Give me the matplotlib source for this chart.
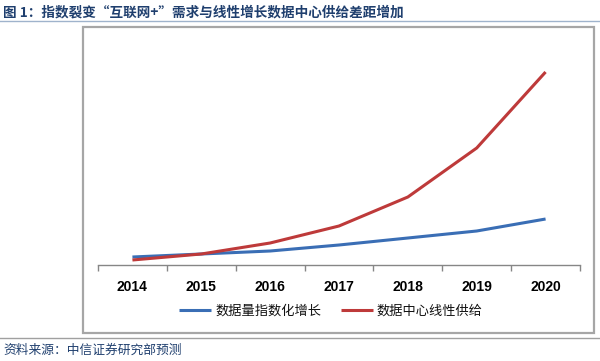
import matplotlib
matplotlib.use("Agg")
import matplotlib.pyplot as plt
from matplotlib.patches import Rectangle
from matplotlib.lines import Line2D
import numpy as np

plt.rcParams['font.family'] = ['Noto Sans CJK SC', 'DejaVu Sans']

years = ['2014', '2015', '2016', '2017', '2018', '2019', '2020']
data_growth = [8, 11, 14, 20, 27, 34, 46]        # 数据量指数化增长 (blue)
dc_supply = [5, 11, 22, 39, 68, 117, 193]        # 数据中心线性供给 (red)
series_names = ['数据量指数化增长', '数据中心线性供给']
title = '图 1：指数裂变“互联网+”需求与线性增长数据中心供给差距增加'
source = '资料来源：中信证券研究部预测'

W, H = 600, 361
fig = plt.figure(figsize=(W / 100, H / 100), dpi=100)

def fx(px):
    return px / W

def fy(py):
    return 1 - py / H

# title
fig.text(fx(3), fy(12), title, fontsize=9.8, fontweight='bold', color='#1F3F6E',
         va='center', ha='left')
# line under title
fig.add_artist(Line2D([0, 1], [fy(21), fy(21)], color='#9FB3CC', lw=1.0))
# frame
fig.add_artist(Rectangle((fx(83), fy(333)), fx(594) - fx(83), fy(27) - fy(333),
                         fill=False, edgecolor='#A6A6A6', lw=1.6))
# bottom separator line
fig.add_artist(Line2D([0, 1], [fy(338), fy(338)], color='#A0A0A0', lw=1.0))
# source
fig.text(fx(3), fy(350), source, fontsize=9.2, color='#1F3F6E', va='center', ha='left')

ax = fig.add_axes([fx(98), fy(265), fx(580) - fx(98), fy(35) - fy(265)])
x = np.arange(len(years))
l1, = ax.plot(x, data_growth, color='#3A6EB5', lw=2.2, solid_capstyle='butt')
l2, = ax.plot(x, dc_supply, color='#BE3A3A', lw=2.2, solid_capstyle='butt')
ax.set_xlim(-0.5, len(years) - 0.5)
ax.set_ylim(0, 230)
for s in ['left', 'right', 'top']:
    ax.spines[s].set_visible(False)
ax.spines['bottom'].set_color('#868686')
ax.spines['bottom'].set_linewidth(1.0)
ax.set_yticks([])
ax.set_xticks(x)
ax.set_xticklabels(years, fontfamily=['Liberation Sans'], fontweight='bold', fontsize=10)
ax.tick_params(axis='x', which='major', length=0, pad=11)
ax.set_xticks(np.arange(-0.5, len(years), 1.0), minor=True)
ax.tick_params(axis='x', which='minor', length=4, color='#868686', width=1.0, direction='out')

fig.legend([l1, l2], series_names, loc='center', bbox_to_anchor=(fx(331), fy(311)),
           ncol=2, frameon=False, fontsize=9.5, handlelength=2.4, handletextpad=0.3,
           columnspacing=1.5, labelcolor='#111111')

fig.savefig('out.png', dpi=100)
